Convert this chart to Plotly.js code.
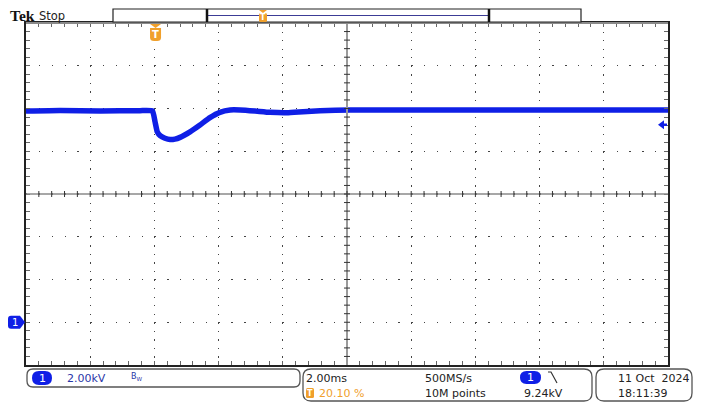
<!DOCTYPE html>
<html><head><meta charset="utf-8">
<script src="https://cdn.plot.ly/plotly-3.0.1.min.js"></script>
<style>html,body{margin:0;padding:0;background:#fff}#chart{width:701px;height:415px}</style>
</head><body><div id="chart"></div>
<script>
// ---- data ----
const timeMs  = [-4.02,-2.96,-1.71,-0.47,-0.08,0.00,0.07,0.16,0.31,0.47,0.62,0.78,1.09,1.40,1.71,2.02,2.34,2.65,3.12,3.58,4.11,4.61,5.14,6.07,9.19,12.31,15.98];
const voltsKV = [9.88,9.91,9.88,9.90,9.89,9.38,8.91,8.73,8.61,8.55,8.57,8.65,8.91,9.23,9.57,9.82,9.93,9.93,9.88,9.82,9.80,9.85,9.89,9.93,9.93,9.93,9.93];
const timePerDiv = 2.0;      // ms/div
const voltsPerDiv = 2.0;     // kV/div
const triggerPosPct = 20.10; // %
const triggerLevel = 9.24;   // kV
const groundLevel = 0;       // kV
const sampleRate = '500MS/s';
const recordLength = '10M points';
const dateText = '11 Oct\u00a0 2024';
const timeText = '18:11:39';
const divX = 10, divY = 8, groundDivFromBottom = 1;

// ---- derived ranges ----
const xMin = -triggerPosPct/100*divX*timePerDiv;
const xMax = xMin + divX*timePerDiv;
const yMin = groundLevel - groundDivFromBottom*voltsPerDiv;
const yMax = yMin + divY*voltsPerDiv;

const BLUE = '#0f1fe6', ORANGE = '#f0a02c', TXT = '#222', TXTBLUE = '#2a36a8';
const L = 26, T = 23, W = 642, H = 342;
function P(x, y){ return (x-L).toFixed(2)+','+(T-y).toFixed(2); }
function pxShape(path, fill, stroke, sw){
  return {type:'path', xref:'paper', yref:'paper', xsizemode:'pixel', ysizemode:'pixel',
    xanchor:0, yanchor:1, path:path, fillcolor:fill||'rgba(0,0,0,0)',
    line:{color:stroke||'rgba(0,0,0,0)', width:stroke?(sw||1):0}, layer:'above'};
}
function rr(x0,y0,x1,y1,r){
  return `M${P(x0+r,y0)} L${P(x1-r,y0)} Q${P(x1,y0)} ${P(x1,y0+r)} L${P(x1,y1-r)} Q${P(x1,y1)} ${P(x1-r,y1)} L${P(x0+r,y1)} Q${P(x0,y1)} ${P(x0,y1-r)} L${P(x0,y0+r)} Q${P(x0,y0)} ${P(x0+r,y0)} Z`;
}
function txt(text, px, py, opts){
  return Object.assign({text:text, xref:'paper', yref:'paper', x:(px-L)/W, y:(T+H-py)/H,
    xanchor:'left', yanchor:'middle', showarrow:false, borderpad:0,
    font:{family:'DejaVu Sans', size:11, color:TXT}}, opts||{});
}

const shapes = [];
const annotations = [];

// center crosshair with division ticks
shapes.push({type:'line', xref:'paper', yref:'paper', x0:0.5, x1:0.5, y0:0, y1:1, line:{color:'#9a9a9a', width:2}, layer:'above'});
shapes.push({type:'line', xref:'paper', yref:'paper', x0:0, x1:1, y0:0.5, y1:0.5, line:{color:'#8a8a8a', width:1.5}, layer:'above'});
for (let i = 1; i < divX*5; i++) {
  shapes.push({type:'line', xref:'paper', yref:'paper', ysizemode:'pixel', yanchor:0.5, x0:i/(divX*5), x1:i/(divX*5), y0:-3, y1:3, line:{color:'#333', width:1}, layer:'above'});
}
for (let i = 1; i < divY*5; i++) {
  shapes.push({type:'line', xref:'paper', yref:'paper', xsizemode:'pixel', xanchor:0.5, y0:i/(divY*5), y1:i/(divY*5), x0:-3, x1:3, line:{color:'#333', width:1}, layer:'above'});
}
// lighter top border like the reference
shapes.push({type:'line', xref:'paper', yref:'paper', x0:0, x1:1, y0:1, y1:1, line:{color:'#8a8a8a', width:2}, layer:'above'});

// top record-view bar
shapes.push(pxShape(`M${P(113,9)} L${P(581,9)} L${P(581,22)} L${P(113,22)} Z`, '#fff', '#222', 1.2));
shapes.push(pxShape(`M${P(207,15.5)} L${P(489,15.5)}`, null, '#3c3c96', 1.2));
shapes.push(pxShape(`M${P(207,9)} L${P(207,22)}`, null, '#111', 2.5));
shapes.push(pxShape(`M${P(489,9)} L${P(489,22)}`, null, '#111', 2.5));
shapes.push(pxShape(`M${P(259,10)} L${P(267,10)} L${P(263,13)} Z`, ORANGE));
shapes.push(pxShape(rr(259,13,267,22,1.5), ORANGE));
annotations.push(txt('<b>T</b>', 263, 17.5, {xanchor:'center', font:{family:'DejaVu Sans', size:8, color:'#fff'}}));

// trigger position marker on the grid (at t = 0)
shapes.push({type:'path', xref:'x', yref:'paper', xsizemode:'pixel', ysizemode:'pixel', xanchor:0, yanchor:1,
  path:'M-5,-1 L6,-1 L0.5,-5 Z', fillcolor:ORANGE, line:{width:0}, layer:'above'});
shapes.push({type:'path', xref:'x', yref:'paper', xsizemode:'pixel', ysizemode:'pixel', xanchor:0, yanchor:1,
  path:'M-5,-5 L6,-5 L6,-14.5 Q6,-18 2,-18 L-1,-18 Q-5,-18 -5,-14.5 Z', fillcolor:ORANGE, line:{width:0}, layer:'above'});
annotations.push({text:'<b>T</b>', xref:'x', yref:'paper', x:0, y:1, xshift:0.5, yshift:-11.5, xanchor:'center', yanchor:'middle',
  showarrow:false, borderpad:0, font:{family:'DejaVu Sans', size:10, color:'#fff'}});

// ground marker (channel 1 reference)
shapes.push({type:'path', xref:'paper', yref:'y', xsizemode:'pixel', ysizemode:'pixel', xanchor:0, yanchor:groundLevel,
  path:'M-15,6.5 L-6,6.5 L-1,0 L-6,-6.5 L-15,-6.5 Q-18,-6.5 -18,-3.5 L-18,3.5 Q-18,6.5 -15,6.5 Z', fillcolor:BLUE, line:{width:0}, layer:'above'});
annotations.push({text:'1', xref:'paper', yref:'y', x:0, y:groundLevel, xshift:-11, xanchor:'center', yanchor:'middle',
  showarrow:false, borderpad:0, font:{family:'DejaVu Sans', size:10, color:'#fff'}});

// trigger level marker at right edge
shapes.push({type:'path', xref:'paper', yref:'y', xsizemode:'pixel', ysizemode:'pixel', xanchor:1, yanchor:triggerLevel,
  path:'M-10,0 L-4,4.5 L-4,-4.5 Z', fillcolor:BLUE, line:{width:0}, layer:'above'});
shapes.push({type:'path', xref:'paper', yref:'y', xsizemode:'pixel', ysizemode:'pixel', xanchor:1, yanchor:triggerLevel,
  path:'M-5,0 L-1,0', line:{color:BLUE, width:2.5}, layer:'above'});

// status bar boxes
shapes.push(pxShape(rr(27,369,300,387,6), '#fff', '#555', 1.3));
shapes.push(pxShape(rr(303,369,592,401,8), '#fff', '#555', 1.3));
shapes.push(pxShape(rr(596,369,692,401,8), '#fff', '#555', 1.3));
shapes.push(pxShape(rr(32,371,52,385,7), BLUE));
annotations.push(txt('1', 42, 378, {xanchor:'center', font:{family:'DejaVu Sans', size:11, color:'#fff'}}));
annotations.push(txt(voltsPerDiv.toFixed(2)+'kV', 66, 378, {font:{family:'DejaVu Sans', size:11, color:TXTBLUE}}));
annotations.push(txt('B<sub>W</sub>', 130, 377, {font:{family:'DejaVu Sans', size:8, color:TXTBLUE}}));
annotations.push(txt(timePerDiv.toFixed(2)+'ms', 305, 378));
shapes.push(pxShape(rr(306,388,314,398,1.5), ORANGE));
annotations.push(txt('<b>T</b>', 310, 393, {xanchor:'center', font:{family:'DejaVu Sans', size:8, color:'#fff'}}));
annotations.push(txt(triggerPosPct.toFixed(2)+' %', 318, 393, {font:{family:'DejaVu Sans', size:11, color:ORANGE}}));
annotations.push(txt(sampleRate, 424, 378));
annotations.push(txt(recordLength, 424, 393));
shapes.push(pxShape(rr(520,371,541,384,6.5), BLUE));
annotations.push(txt('1', 530.5, 377.5, {xanchor:'center', font:{family:'DejaVu Sans', size:11, color:'#fff'}}));
shapes.push(pxShape(`M${P(548,372)} L${P(551,372)} L${P(557,383)}`, null, '#333', 1.2));
annotations.push(txt(triggerLevel.toFixed(2)+'kV', 523, 393));
annotations.push(txt(dateText, 617, 378));
annotations.push(txt(timeText, 617, 393));

// header
annotations.push(txt('<b>Tek</b>', 9, 15.5, {font:{family:'Liberation Serif', size:15.5, color:'#111'}}));
annotations.push(txt('Stop', 38, 16, {font:{family:'DejaVu Sans', size:11.5, color:TXT}}));

const trace = {x:timeMs, y:voltsKV, type:'scatter', mode:'lines', line:{color:BLUE, width:5.5, shape:'spline', smoothing:0.4}, hoverinfo:'skip'};

const layout = {
  width:701, height:415, margin:{l:26, r:33, t:23, b:50, pad:0},
  paper_bgcolor:'#fff', plot_bgcolor:'#fff', showlegend:false,
  xaxis:{range:[xMin,xMax], tick0:xMin, dtick:timePerDiv, showgrid:true, gridcolor:'#444', gridwidth:1.3,
    griddash:'1.3px,7.25px', zeroline:false, showticklabels:false, ticks:'inside', ticklen:4, tickcolor:'#666',
    showline:true, linecolor:'#222', linewidth:2, mirror:'ticks',
    minor:{tick0:xMin, dtick:timePerDiv/5, ticks:'inside', ticklen:4, tickcolor:'#666', showgrid:false}},
  yaxis:{range:[yMin,yMax], tick0:yMin, dtick:voltsPerDiv, showgrid:true, gridcolor:'#444', gridwidth:1.3,
    griddash:'1.3px,11.54px', zeroline:false, showticklabels:false, ticks:'inside', ticklen:4, tickcolor:'#666',
    showline:true, linecolor:'#222', linewidth:2, mirror:'ticks',
    minor:{tick0:yMin, dtick:voltsPerDiv/5, ticks:'inside', ticklen:4, tickcolor:'#666', showgrid:false}},
  shapes:shapes, annotations:annotations
};
Plotly.newPlot('chart', [trace], layout, {staticPlot:true, displayModeBar:false});
</script></body></html>
